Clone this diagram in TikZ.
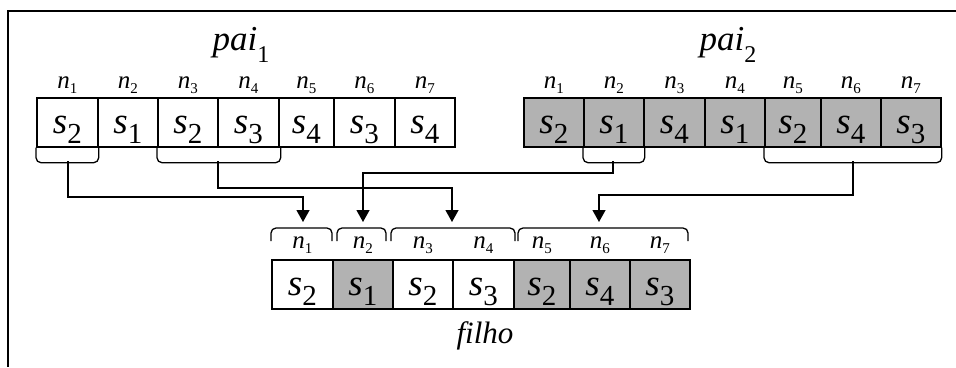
\documentclass[tikz,border=0pt]{standalone}
\usepackage{fontspec}
\setmainfont{Liberation Serif}
\usetikzlibrary{arrows.meta,calc}
\definecolor{cellgray}{RGB}{178,178,178}
\newcommand{\sv}[1]{{\fontsize{37}{37}\selectfont\itshape s}\raisebox{-10pt}{\fontsize{29}{29}\selectfont #1}}
\newcommand{\nv}[1]{{\fontsize{25}{25}\selectfont\itshape n}\raisebox{-5pt}{\fontsize{15}{15}\selectfont #1}}
\begin{document}
\begin{tikzpicture}[x=1pt,y=-1pt,
  cell/.style={draw, line width=1.7pt, inner sep=0pt, minimum height=49pt,
    text height=36pt, text depth=13pt, anchor=north west, fill=white},
  gcell/.style={cell, fill=cellgray},
  idx/.style={anchor=base, inner sep=0pt},
  titletext/.style={anchor=base, inner sep=0pt},
  bracepath/.style={line width=1.3pt, rounded corners=5pt},
  conn/.style={line width=1.3pt, -{Triangle[length=12pt,width=13pt]}}]
\useasboundingbox (0,0) rectangle (956,367);
% frame
\draw[line width=2.4pt] (956,11) -- (8,11) -- (8,367);
% titles
\node[titletext] (t1) at (241,50) {{\fontsize{35}{35}\selectfont\itshape pai}\raisebox{-12pt}{\fontsize{24}{24}\selectfont 1}};
\node[titletext] (t2) at (728,50) {{\fontsize{35}{35}\selectfont\itshape pai}\raisebox{-12pt}{\fontsize{24}{24}\selectfont 2}};
\node[titletext] (t3) at (485,343) {\fontsize{31}{31}\selectfont\itshape filho};
% pai1
\foreach \i/\a/\b/\s/\f in {1/36/97/2/cell, 2/97/157/1/cell, 3/157/217/2/cell, 4/217/278/3/cell, 5/278/333/4/cell, 6/333/394/3/cell, 7/394/454/4/cell}{
  \node[\f, minimum width={\b-\a}] (pa\i) at (\a,97) {\sv{\s}};
  \node[idx] (pan\i) at (pa\i.north |- 0,88) {\nv{\i}};
}
% pai2
\foreach \i/\a/\b/\s/\f in {1/523/583/2/gcell, 2/583/643/1/gcell, 3/643/704/4/gcell, 4/704/764/1/gcell, 5/764/820/2/gcell, 6/820/880/4/gcell, 7/880/940/3/gcell}{
  \node[\f, minimum width={\b-\a}] (pb\i) at (\a,97) {\sv{\s}};
  \node[idx] (pbn\i) at (pb\i.north |- 0,88) {\nv{\i}};
}
% filho
\foreach \i/\a/\b/\s/\f in {1/271/332/2/cell, 2/332/392/1/gcell, 3/392/452/2/cell, 4/452/513/3/cell, 5/513/569/2/gcell, 6/569/629/4/gcell, 7/629/689/3/gcell}{
  \node[\f, minimum width={\b-\a}] (fc\i) at (\a,259) {\sv{\s}};
  \node[idx] (fcn\i) at (fc\i.north |- 0,248) {\nv{\i}};
}
% braces under parents
\draw[bracepath] (pa1.south west) |- ($(pa1.south east)+(0,15)$) -- (pa1.south east);
\draw[bracepath] (pa3.south west) |- ($(pa4.south east)+(1,15)$) -- ($(pa4.south east)+(1,0)$);
\draw[bracepath] (pb2.south west) |- ($(pb2.south east)+(0,15)$) -- (pb2.south east);
\draw[bracepath] (pb5.south west) |- ($(pb7.south east)+(0,15)$) -- (pb7.south east);
\coordinate (sa1) at (68,161);
\coordinate (sa2) at (218,161);
\coordinate (sb1) at (613,161);
\coordinate (sb2) at (853,161);
% braces above child
\draw[bracepath] (271,241) |- (301,228) -| (332,241);
\draw[bracepath] (337,241) |- (361,228) -| (386,241);
\draw[bracepath] (391,241) |- (453,228) -| (515,241);
\draw[bracepath] (518,241) |- (603,228) -| (688,241);
\coordinate (ft1) at (303,222);
\coordinate (ft2) at (363,222);
\coordinate (ft3) at (452,222);
\coordinate (ft4) at (599,222);
% connectors
\draw[conn] (sa1) -- (sa1 |- 0,197) -| (ft1);
\draw[conn] (sa2) -- (sa2 |- 0,188) -| (ft3);
\draw[conn] (sb1) -- (sb1 |- 0,173) -| (ft2);
\draw[conn] (sb2) -- (sb2 |- 0,195) -| (ft4);
\end{tikzpicture}
\end{document}
